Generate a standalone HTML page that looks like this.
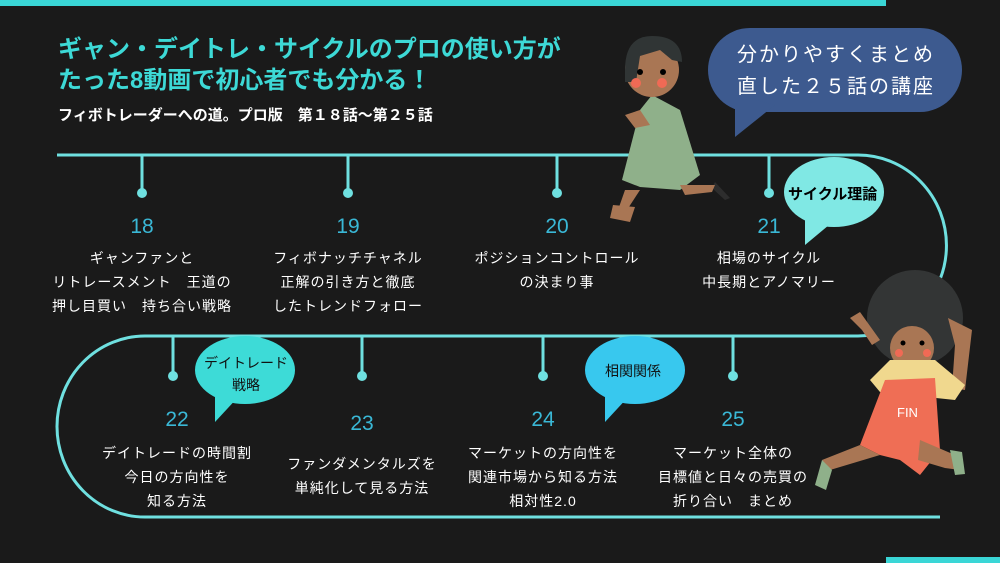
<!DOCTYPE html>
<html><head><meta charset="utf-8"><style>
body{margin:0;width:1000px;height:563px;background:#1a1a1a;overflow:hidden;position:relative;font-family:"Liberation Sans","Noto Sans CJK JP",sans-serif;}
.t{position:absolute;white-space:nowrap;}
.num{position:absolute;color:#3ab8d6;font-size:21px;text-align:center;width:80px;margin-left:-40px;}
.desc{position:absolute;color:#fff;font-size:14px;line-height:24px;text-align:center;width:220px;margin-left:-110px;letter-spacing:1px;}
</style></head><body>
<svg width="1000" height="563" style="position:absolute;left:0;top:0">
<rect x="0" y="0" width="886" height="6" fill="#3ad6d6"/>
<rect x="886" y="557" width="114" height="6" fill="#3ad6d6"/>
<g stroke="#6fe0e0" stroke-width="3" fill="none">
<path d="M57 155 H858 A88 90 0 0 1 858 336 H145 A88 90.5 0 0 0 145 517 H940"/>
<line x1="142" y1="155" x2="142" y2="190"/><line x1="348" y1="155" x2="348" y2="190"/><line x1="557" y1="155" x2="557" y2="190"/><line x1="769" y1="155" x2="769" y2="190"/>
<line x1="173" y1="336" x2="173" y2="373"/><line x1="362" y1="336" x2="362" y2="373"/><line x1="543" y1="336" x2="543" y2="373"/><line x1="733" y1="336" x2="733" y2="373"/>
</g>
<g fill="#6fe0e0">
<circle cx="142" cy="193" r="5"/><circle cx="348" cy="193" r="5"/><circle cx="557" cy="193" r="5"/><circle cx="769" cy="193" r="5"/>
<circle cx="173" cy="376" r="5"/><circle cx="362" cy="376" r="5"/><circle cx="543" cy="376" r="5"/><circle cx="733" cy="376" r="5"/>
</g>
<rect x="708" y="28" width="254" height="84" rx="42" fill="#3d5a8f"/>
<path d="M735 95 L735 137 L775 105 Z" fill="#3d5a8f"/>
<ellipse cx="834" cy="192" rx="50" ry="35" fill="#80e8e4"/>
<path d="M805 210 L805 245 L835 220 Z" fill="#80e8e4"/>
<ellipse cx="245" cy="370" rx="50" ry="34" fill="#3ddbd7"/>
<path d="M215 385 L215 422 L240 395 Z" fill="#3ddbd7"/>
<ellipse cx="635" cy="370" rx="50" ry="34" fill="#38c8ee"/>
<path d="M605 385 L605 422 L630 395 Z" fill="#38c8ee"/>
<g>
<path d="M613 205 L610 218 L630 222 L635 207Z" fill="#a97654"/>
<path d="M715 182 L730 198 L725 200 L712 188Z" fill="#2d2d2d"/>
<path d="M652 95 L680 110 L700 175 L680 190 L640 187 L622 180 L640 110Z" fill="#8fb08a"/>
<path d="M680 185 L715 185 L712 192 L685 195Z" fill="#a97654"/>
<path d="M625 190 L640 190 L625 213 L618 210Z" fill="#a97654"/>
<circle cx="652" cy="70" r="27" fill="#a97654"/>
<path d="M625 70 Q625 36 652 36 Q682 36 682 62 L672 60 L660 50 L640 56 L636 82 L625 82Z" fill="#303535"/>
<circle cx="640" cy="72" r="3" fill="#000"/><circle cx="663" cy="72" r="3" fill="#000"/>
<circle cx="636" cy="83" r="5" fill="#f06a55"/><circle cx="662" cy="83" r="5" fill="#f06a55"/>
<path d="M625 115 L640 110 L650 125 L635 128Z" fill="#a97654"/>
</g>
<g>
<circle cx="915" cy="318" r="48" fill="#333535"/>
<path d="M862 330 L850 318 L860 312 L880 340 L872 345Z" fill="#a97654"/>
<path d="M948 318 L972 330 L965 390 L952 388 L955 345Z" fill="#a97654"/>
<circle cx="912" cy="348" r="22" fill="#a97654"/>
<circle cx="903" cy="343" r="2.5" fill="#000"/><circle cx="922" cy="343" r="2.5" fill="#000"/>
<circle cx="899" cy="353" r="4" fill="#f06a55"/><circle cx="927" cy="353" r="4" fill="#f06a55"/>
<path d="M870 380 L890 360 L935 360 L965 385 L955 400 L880 392Z" fill="#f0d88e"/>
<path d="M885 380 L935 378 L940 450 L920 475 L900 460 L880 455 L860 445 Z" fill="#ef6e55"/>
<path d="M860 445 L880 455 L830 470 L822 460Z" fill="#a97654"/>
<path d="M822 460 L832 470 L826 490 L815 485Z" fill="#8fb08a"/>
<path d="M920 440 L955 455 L960 470 L945 468 L918 460Z" fill="#a97654"/>
<path d="M950 450 L962 452 L965 474 L955 475Z" fill="#8fb08a"/>
</g>
</svg>
<div class="t" style="left:58px;top:34px;color:#3dd9d6;font-size:24px;font-weight:bold;line-height:31px">ギャン・デイトレ・サイクルのプロの使い方が<br>たった8動画で初心者でも分かる！</div>
<div class="t" style="left:58px;top:104px;color:#fff;font-size:15px;font-weight:bold">フィボトレーダーへの道。プロ版　第１８話〜第２５話</div>
<div class="t" style="left:737px;top:39px;color:#fff;font-size:20px;line-height:32px;letter-spacing:2px">分かりやすくまとめ<br>直した２５話の講座</div>
<div class="t" style="left:788px;top:183px;color:#000;font-size:15px;font-weight:bold">サイクル理論</div>
<div class="t" style="left:196px;top:352px;color:#111;font-size:14px;line-height:22px;text-align:center;width:100px">デイトレード<br>戦略</div>
<div class="t" style="left:605px;top:361px;color:#111;font-size:14px">相関関係</div>
<div class="t" style="left:897px;top:405px;color:#fff;font-size:13px">FIN</div>
<div class="num" style="left:142px;top:215px">18</div>
<div class="num" style="left:348px;top:215px">19</div>
<div class="num" style="left:557px;top:215px">20</div>
<div class="num" style="left:769px;top:215px">21</div>
<div class="num" style="left:177px;top:408px">22</div>
<div class="num" style="left:362px;top:412px">23</div>
<div class="num" style="left:543px;top:408px">24</div>
<div class="num" style="left:733px;top:408px">25</div>
<div class="desc" style="left:142px;top:246px">ギャンファンと<br>リトレースメント　王道の<br>押し目買い　持ち合い戦略</div>
<div class="desc" style="left:348px;top:246px">フィボナッチチャネル<br>正解の引き方と徹底<br>したトレンドフォロー</div>
<div class="desc" style="left:557px;top:246px">ポジションコントロール<br>の決まり事</div>
<div class="desc" style="left:769px;top:246px">相場のサイクル<br>中長期とアノマリー</div>
<div class="desc" style="left:177px;top:441px">デイトレードの時間割<br>今日の方向性を<br>知る方法</div>
<div class="desc" style="left:362px;top:452px">ファンダメンタルズを<br>単純化して見る方法</div>
<div class="desc" style="left:543px;top:441px">マーケットの方向性を<br>関連市場から知る方法<br>相対性2.0</div>
<div class="desc" style="left:733px;top:441px">マーケット全体の<br>目標値と日々の売買の<br>折り合い　まとめ</div>
</body></html>
